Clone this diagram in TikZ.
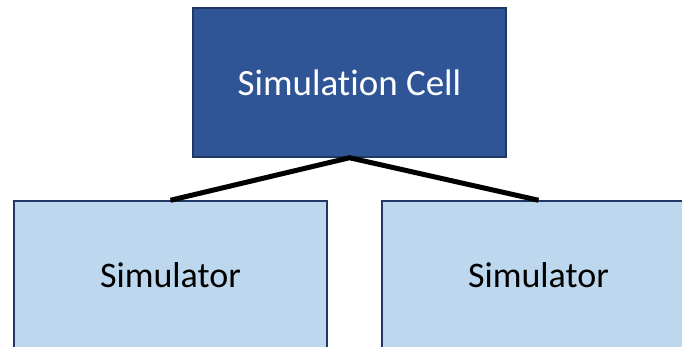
\documentclass[tikz,border=0pt]{standalone}
\usepackage{fontspec}
\setmainfont{Carlito}[Ligatures={NoCommon}]
\definecolor{darkfill}{HTML}{2F5597}
\definecolor{lightfill}{HTML}{BDD7EE}
\definecolor{edgeblue}{HTML}{1F3864}
\begin{document}
\begin{tikzpicture}[x=1pt,y=-1pt,
  box/.style={rectangle,draw=edgeblue,line width=1.5pt,minimum width=313pt,minimum height=149pt,inner sep=0pt},
  cellbox/.style={box,fill=darkfill,text=white,font=\fontsize{37}{42}\selectfont},
  simbox/.style={box,fill=lightfill,text=black,font=\fontsize{36}{41}\selectfont},
  link/.style={line width=5pt,black}]
\useasboundingbox (0,0) rectangle (682,347);
\clip (0,0) rectangle (682,347);
\fill[white] (0,0) rectangle (682,347);
\node[cellbox] (cell) at (349.5,82.5) {Simulation Cell};
\node[simbox] (simA) at (170.5,275.5) {Simulator};
\node[simbox] (simB) at (538.5,275.5) {Simulator};
\draw[link] (simA.north) -- (cell.south) -- (simB.north);
\end{tikzpicture}
\end{document}
